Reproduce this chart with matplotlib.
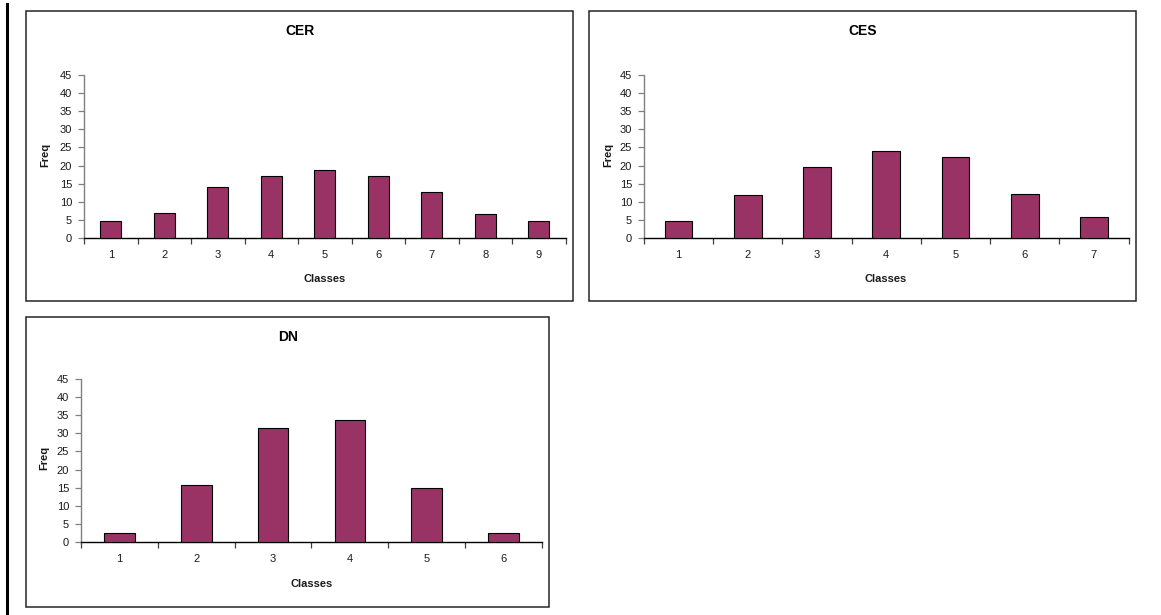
import matplotlib
matplotlib.use("Agg")
import matplotlib.pyplot as plt
from matplotlib.patches import Rectangle
from matplotlib.lines import Line2D
import numpy as np

plt.rcParams['font.family'] = ['Liberation Sans', 'DejaVu Sans']

# ---- data ----
cer_classes = [1, 2, 3, 4, 5, 6, 7, 8, 9]
cer_freq = [4.6, 7.0, 14.2, 17.0, 18.8, 17.2, 12.8, 6.7, 4.8]

ces_classes = [1, 2, 3, 4, 5, 6, 7]
ces_freq = [4.6, 12.0, 19.5, 24.1, 22.4, 12.2, 5.9]

dn_classes = [1, 2, 3, 4, 5, 6]
dn_freq = [2.6, 15.6, 31.5, 33.7, 15.0, 2.6]

titles = ["CER", "CES", "DN"]
yticks = [0, 5, 10, 15, 20, 25, 30, 35, 40, 45]

BAR_COLOR = '#993366'
W, H = 1161, 615

fig = plt.figure(figsize=(W / 100, H / 100), dpi=100)
fig.patch.set_facecolor('white')


def fx(x):
    return x / W


def fy(y):
    return 1 - y / H


def rect(x0, x1, ytop, ybot):
    return [x0 / W, 1 - ybot / H, (x1 - x0) / W, (ybot - ytop) / H]


def box(x0, x1, ytop, ybot):
    fig.add_artist(Rectangle((fx(x0), fy(ybot)), (x1 - x0) / W, (ybot - ytop) / H,
                             transform=fig.transFigure, fill=False,
                             edgecolor='#262626', linewidth=1.1))


def panel(classes, freq, title, ax_pos, box_pos, title_xy, xlabel_xy, ylabel_xy):
    box(*box_pos)
    ax = fig.add_axes(rect(*ax_pos))
    ax.set_facecolor('none')
    x = np.array(classes)
    ax.bar(x, freq, width=0.4, color=BAR_COLOR, edgecolor='black', linewidth=0.8, zorder=3)
    n = len(classes)
    ax.set_xlim(0.5, n + 0.5)
    ax.set_ylim(0, 45)
    ax.set_yticks(yticks)
    ax.set_yticklabels([str(v) for v in yticks])
    ax.set_xticks(np.arange(0.5, n + 1, 1.0))
    ax.set_xticklabels([])
    ax.set_xticks(x, minor=True)
    ax.set_xticklabels([str(c) for c in classes], minor=True)
    ax.tick_params(axis='x', which='major', length=4, width=0.9, color='#404040', direction='out')
    ax.tick_params(axis='x', which='minor', length=0, pad=9, labelsize=8, labelcolor='#1a1a1a')
    ax.tick_params(axis='y', length=4, width=0.9, color='#808080', pad=4.5,
                   labelsize=8, labelcolor='#1a1a1a', direction='out')
    for s in ['top', 'right']:
        ax.spines[s].set_visible(False)
    ax.spines['left'].set_color('#808080')
    ax.spines['left'].set_linewidth(1.0)
    ax.spines['bottom'].set_color('black')
    ax.spines['bottom'].set_linewidth(1.0)
    fig.text(fx(title_xy[0]), fy(title_xy[1]), title, ha='center', va='center',
             fontsize=10, fontweight='bold', color='black')
    fig.text(fx(xlabel_xy[0]), fy(xlabel_xy[1]), "Classes", ha='center', va='center',
             fontsize=8, fontweight='bold', color='#1a1a1a')
    fig.text(fx(ylabel_xy[0]), fy(ylabel_xy[1]), "Freq", ha='center', va='center',
             rotation=90, fontsize=8, fontweight='bold', color='#1a1a1a')
    return ax


panel(cer_classes, cer_freq, titles[0],
      (84, 565.5, 75, 238), (26.3, 572.7, 11, 300.7),
      (299.5, 31), (325, 279), (45, 155))
panel(ces_classes, ces_freq, titles[1],
      (644, 1128.5, 75, 238), (589.3, 1135.7, 11, 300.7),
      (863, 31), (886, 279), (608, 155))
panel(dn_classes, dn_freq, titles[2],
      (81, 542, 379, 542), (26.3, 549.3, 316.7, 606.7),
      (288, 337), (311.5, 584), (44, 458))

# left vertical rule
fig.add_artist(Line2D([fx(7), fx(7)], [fy(4), fy(615)], transform=fig.transFigure,
                      color='black', linewidth=2.2))

fig.savefig("out.png", dpi=100, facecolor='white')
